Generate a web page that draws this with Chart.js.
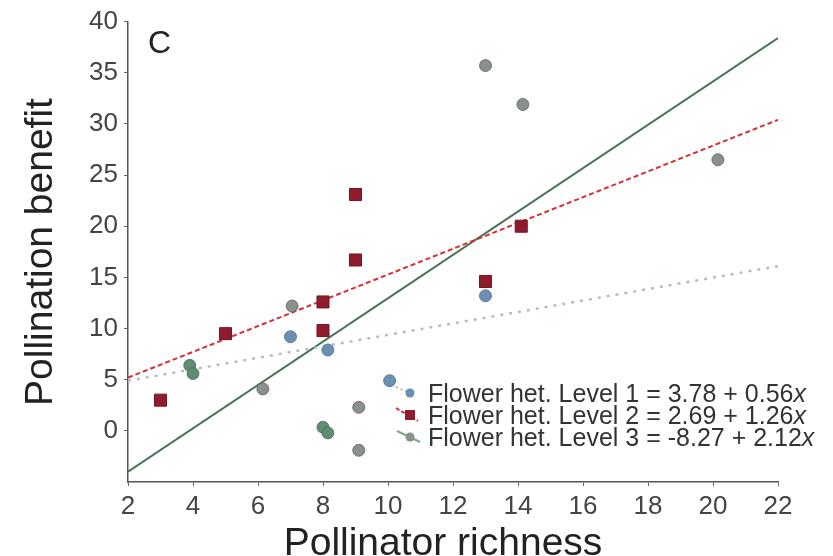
<!DOCTYPE html>
<html>
<head>
<meta charset="utf-8">
<script src="https://cdn.jsdelivr.net/npm/chart.js@4.4.1/dist/chart.umd.min.js"></script>
<style>
  html, body { margin: 0; padding: 0; background: #fff; }
</style>
</head>
<body>
<canvas id="chart" width="833" height="556"></canvas>
<script>
// values
const level1X = [7.0, 8.15, 10.05, 13.0];
const level1Y = [9.2, 7.9, 4.9, 13.2];
const level2X = [3.0, 5.0, 8.0, 8.0, 9.0, 9.0, 13.0, 14.1];
const level2Y = [3.0, 9.5, 12.6, 9.8, 23.1, 16.7, 14.6, 20.0];
const level3X = [3.9, 4.0, 6.15, 7.05, 8.0, 8.15, 9.1, 9.1, 13.0, 14.15, 20.15];
const level3Y = [6.4, 5.6, 4.1, 12.2, 0.35, -0.2, 2.3, -1.9, 35.7, 31.9, 26.5];

// fitted lines, end points at x = 2 and x = 22
const fitX = [2, 22];
const fit1Y = [4.9, 16.1];
const fit2Y = [5.2, 30.4];
const fit3Y = [-4.0, 38.4];

const legendLabels = [
  "Flower het. Level 1 = 3.78 + 0.56",
  "Flower het. Level 2 = 2.69 + 1.26",
  "Flower het. Level 3 = -8.27 + 2.12"
];
const xTicks = [2, 4, 6, 8, 10, 12, 14, 16, 18, 20, 22];
const yTicks = [0, 5, 10, 15, 20, 25, 30, 35, 40];

// styling
const FONT = "'Liberation Sans', Arial, sans-serif";
const blue = "rgb(108,142,176)";
const red = "rgb(142,28,44)";
const green = "rgb(92,142,112)";
const gray = "rgb(138,144,140)";
const level3Fill = [green, green, gray, gray, green, green, gray, gray, gray, gray, gray];

const pts = (xs, ys) => xs.map((x, i) => ({ x: x, y: ys[i] }));

const overlay = {
  id: "overlay",
  afterDraw(chart) {
    const ctx = chart.ctx;
    ctx.save();
    ctx.fillStyle = "#222";
    ctx.textBaseline = "alphabetic";

    // panel letter
    ctx.font = "32px " + FONT;
    ctx.textAlign = "left";
    ctx.fillText("C", 148, 53);

    // axis titles
    ctx.font = "39px " + FONT;
    ctx.textAlign = "center";
    ctx.fillText("Pollinator richness", 443, 555);
    ctx.save();
    ctx.translate(52, 252);
    ctx.rotate(-Math.PI / 2);
    ctx.fillText("Pollination benefit", 0, 0);
    ctx.restore();

    // legend
    const rows = [393, 415, 437];
    const mx = 410;
    ctx.lineWidth = 2;
    // level 1
    ctx.setLineDash([2, 3]);
    ctx.strokeStyle = "rgb(170,186,196)";
    ctx.beginPath(); ctx.moveTo(396, rows[0] - 6); ctx.lineTo(mx, rows[0]); ctx.stroke();
    // level 2
    ctx.setLineDash([4, 2]);
    ctx.strokeStyle = "rgb(214,48,52)";
    ctx.beginPath(); ctx.moveTo(396, rows[1] - 7); ctx.lineTo(mx + 8, rows[1] + 6); ctx.stroke();
    // level 3
    ctx.setLineDash([]);
    ctx.strokeStyle = "rgb(120,170,130)";
    ctx.beginPath(); ctx.moveTo(397, rows[2] - 6); ctx.lineTo(mx + 10, rows[2] + 5); ctx.stroke();

    ctx.fillStyle = blue;
    ctx.beginPath(); ctx.arc(mx, rows[0], 4.5, 0, Math.PI * 2); ctx.fill();
    ctx.fillStyle = red;
    ctx.fillRect(mx - 5, rows[1] - 5, 10, 10);
    ctx.fillStyle = gray;
    ctx.beginPath(); ctx.arc(mx, rows[2], 4.5, 0, Math.PI * 2); ctx.fill();

    ctx.fillStyle = "#333";
    ctx.textAlign = "left";
    legendLabels.forEach((t, i) => {
      const y = rows[i] + 9;
      ctx.font = "25px " + FONT;
      ctx.fillText(t, 428, y);
      const w = ctx.measureText(t).width;
      ctx.font = "italic 25px " + FONT;
      ctx.fillText("x", 428 + w, y);
    });
    ctx.restore();
  }
};

new Chart(document.getElementById("chart"), {
  type: "scatter",
  data: {
    datasets: [
      {
        label: legendLabels[0],
        data: pts(level1X, level1Y),
        pointStyle: "circle",
        pointRadius: 6,
        backgroundColor: blue,
        borderColor: "rgb(92,124,156)",
        borderWidth: 1
      },
      {
        label: legendLabels[1],
        data: pts(level2X, level2Y),
        pointStyle: "rect",
        pointRadius: 8.5,
        backgroundColor: red,
        borderColor: "rgb(120,20,36)",
        borderWidth: 1
      },
      {
        label: legendLabels[2],
        data: pts(level3X, level3Y),
        pointStyle: "circle",
        pointRadius: 6,
        backgroundColor: (c) => level3Fill[c.dataIndex] || green,
        borderColor: "rgba(90,100,95,0.8)",
        borderWidth: 1
      },
      {
        data: pts(fitX, fit1Y),
        showLine: true,
        pointRadius: 0,
        borderColor: "rgb(176,190,198)",
        borderWidth: 2.5,
        borderDash: [3, 6]
      },
      {
        data: pts(fitX, fit2Y),
        showLine: true,
        pointRadius: 0,
        borderColor: "rgb(214,48,52)",
        borderWidth: 2,
        borderDash: [5, 3]
      },
      {
        data: pts(fitX, fit3Y),
        showLine: true,
        pointRadius: 0,
        borderColor: "rgb(72,112,84)",
        borderWidth: 2
      }
    ]
  },
  options: {
    responsive: false,
    animation: false,
    layout: { padding: { top: 20, right: 55, bottom: 0, left: 0 } },
    plugins: { legend: { display: false }, tooltip: { enabled: false } },
    scales: {
      x: {
        type: "linear",
        min: 2,
        max: 22,
        afterFit: (s) => { s.height = 74; },
        afterBuildTicks: (s) => { s.ticks = xTicks.map(v => ({ value: v })); },
        grid: { drawOnChartArea: false, tickLength: 4, color: "#666" },
        border: { color: "#555", width: 1.5 },
        ticks: { color: "#444", padding: 5, maxRotation: 0, font: { family: FONT, size: 26 } }
      },
      y: {
        type: "linear",
        min: -5,
        max: 40,
        afterFit: (s) => { s.width = 128; },
        afterBuildTicks: (s) => { s.ticks = yTicks.map(v => ({ value: v })); },
        grid: { drawOnChartArea: false, tickLength: 4, color: "#666" },
        border: { color: "#555", width: 1.5 },
        ticks: { color: "#444", padding: 6, font: { family: FONT, size: 26 } }
      }
    }
  },
  plugins: [overlay]
});
</script>
</body>
</html>
